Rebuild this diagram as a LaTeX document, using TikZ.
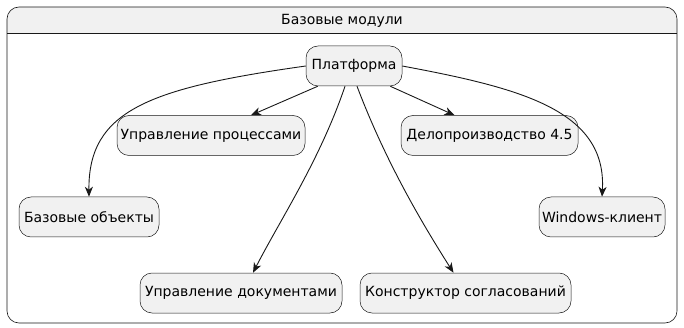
\documentclass[tikz,border=0pt]{standalone}
\usepackage{fontspec}
\setmainfont{DejaVu Sans}
\usetikzlibrary{arrows.meta}
\definecolor{boxfill}{HTML}{F1F1F1}
\definecolor{boxline}{HTML}{181818}

\begin{document}
\begin{tikzpicture}[x=1pt, y=-1pt,
    module/.style={draw=boxline, fill=boxfill, rounded corners=12pt, line width=0.5pt,
        minimum height=40pt, inner xsep=0pt, font=\fontsize{14}{16}\selectfont},
    link/.style={draw=boxline, line width=0.9pt,
        -{Stealth[length=10pt, width=8pt, inset=3pt]}}]
    \useasboundingbox (0, 0) rectangle (684, 328);
    % frame
    \begin{scope}
        \clip[rounded corners=12pt] (7, 7) rectangle (677, 323);
        \fill[boxfill] (7, 7) rectangle (677, 33);
    \end{scope}
    \draw[boxline, line width=0.6pt, rounded corners=12pt] (7, 7) rectangle (677, 323);
    \draw[boxline, line width=0.6pt] (7, 33) -- (677, 33);
    \node[font=\fontsize{14}{16}\selectfont] (title) at (342, 20.5) {Базовые модули};
    % modules
    \node[module, minimum width=96pt] (platform) at (354, 66) {Платформа};
    \node[module, minimum width=188pt] (processes) at (211, 135.5) {Управление процессами};
    \node[module, minimum width=177pt] (records) at (489.5, 135.5) {Делопроизводство 4.5};
    \node[module, minimum width=140pt] (baseobj) at (89, 217) {Базовые объекты};
    \node[module, minimum width=126pt] (winclient) at (602, 217) {Windows-клиент};
    \node[module, minimum width=202pt] (documents) at (241, 293) {Управление документами};
    \node[module, minimum width=211pt] (approval) at (465.5, 293) {Конструктор согласований};
    % links
    \draw[link] (platform.west) .. controls (150, 88) and (88, 110) .. (baseobj.north);
    \draw[link] ([xshift=12pt]platform.south west) -- ([xshift=40pt]processes.north);
    \draw[link] ([xshift=-9pt]platform.south) .. controls (320, 160) and (280, 220) .. ([xshift=12pt]documents.north);
    \draw[link] ([xshift=3pt]platform.south) .. controls (385, 160) and (420, 220) .. ([xshift=-12pt]approval.north);
    \draw[link] ([xshift=-12pt]platform.south east) -- ([xshift=-35pt]records.north);
    \draw[link] (platform.east) .. controls (520, 88) and (607, 110) .. (winclient.north);
\end{tikzpicture}
\end{document}
